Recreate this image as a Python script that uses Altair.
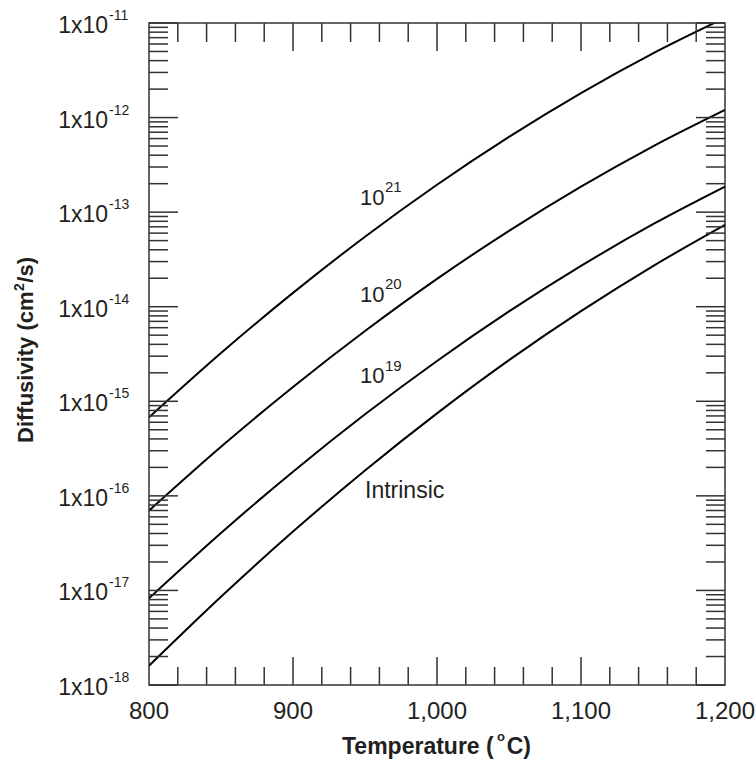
import altair as alt
import pandas as pd

# ---------------- data ----------------
temps = [800, 850, 900, 950, 1000, 1050, 1100, 1150, 1200]
d_1e21 = [6.76e-16, 3.24e-15, 1.40e-14, 5.50e-14, 1.95e-13, 6.25e-13, 1.816e-12, 4.78e-12, 1.135e-11]
d_1e20 = [6.97e-17, 3.30e-16, 1.416e-15, 5.53e-15, 1.968e-14, 6.35e-14, 1.862e-13, 4.97e-13, 1.205e-12]
d_1e19 = [8.26e-18, 4.05e-17, 1.80e-16, 7.28e-16, 2.67e-15, 8.91e-15, 2.70e-14, 7.45e-14, 1.862e-13]
d_intr = [1.60e-18, 8.59e-18, 4.19e-17, 1.854e-16, 7.45e-16, 2.72e-15, 8.97e-15, 2.69e-14, 7.33e-14]
series_names = ["10^21", "10^20", "10^19", "Intrinsic"]

x_tick_labels = [800, 900, 1000, 1100, 1200]
x_major_ticks = [900, 1000, 1100]
x_minor_ticks = [820, 840, 860, 880, 920, 940, 960, 980, 1020, 1040, 1060, 1080,
                 1120, 1140, 1160, 1180]
y_exponents = [-18, -17, -16, -15, -14, -13, -12, -11]
y_minor_mantissas = [2, 3, 4, 5, 6, 7, 8, 9]

# ---------------- layout / style ----------------
W, H = 576, 662
FONT = "Liberation Sans"
TC = "#231f20"
FRAME = "#333333"

rows = []
for name, vals in zip(series_names, [d_1e21, d_1e20, d_1e19, d_intr]):
    for t, d in zip(temps, vals):
        rows.append({"series": name, "T": t, "D": d})
curves = pd.DataFrame(rows)

xs = alt.Scale(domain=[800, 1200], nice=False, zero=False)
ys = alt.Scale(type="log", domain=[1e-18, 1e-11], nice=False)

lines = alt.Chart(curves).mark_line(
    color="black", strokeWidth=2, clip=True, interpolate="monotone"
).encode(
    x=alt.X("T:Q", scale=xs, axis=None),
    y=alt.Y("D:Q", scale=ys, axis=None),
    detail="series:N",
)

y_major_df = pd.DataFrame({"v": [10.0 ** e for e in y_exponents]})
y_minor_df = pd.DataFrame({"v": [m * 10.0 ** e for e in y_exponents[:-1] for m in y_minor_mantissas]})
x_major_df = pd.DataFrame({"v": x_major_ticks})
x_minor_df = pd.DataFrame({"v": x_minor_ticks})


def yticks(df, x0, x1):
    return alt.Chart(df).mark_rule(color=FRAME, strokeWidth=1.5).encode(
        y=alt.Y("v:Q", scale=ys, axis=None), x=alt.value(x0), x2=alt.value(x1)
    )


def xticks(df, y0, y1):
    return alt.Chart(df).mark_rule(color=FRAME, strokeWidth=1.5).encode(
        x=alt.X("v:Q", scale=xs, axis=None), y=alt.value(y0), y2=alt.value(y1)
    )


ticks = [
    yticks(y_minor_df, 0, 19), yticks(y_major_df, 0, 29),
    yticks(y_minor_df, W - 19, W), yticks(y_major_df, W - 29, W),
    xticks(x_minor_df, H, H - 18), xticks(x_major_df, H, H - 28),
    xticks(x_minor_df, 0, 19), xticks(x_major_df, 0, 28),
]

# y tick labels: "1x10" with superscript exponent
ylab_df = pd.DataFrame({"v": [10.0 ** e for e in y_exponents],
                        "base": ["1x10"] * len(y_exponents),
                        "exp": [str(e) for e in y_exponents]})
ylab_base = alt.Chart(ylab_df).mark_text(
    align="right", baseline="alphabetic", fontSize=23, font=FONT, color=TC, dy=10
).encode(y=alt.Y("v:Q", scale=ys, axis=None), x=alt.value(-41), text="base:N")
ylab_exp = alt.Chart(ylab_df).mark_text(
    align="left", baseline="alphabetic", fontSize=14, font=FONT, color=TC, dy=-3
).encode(y=alt.Y("v:Q", scale=ys, axis=None), x=alt.value(-40), text="exp:N")

xlab_df = pd.DataFrame({"v": x_tick_labels})
xlab = alt.Chart(xlab_df).mark_text(
    align="center", baseline="alphabetic", fontSize=24, font=FONT, color=TC
).encode(x=alt.X("v:Q", scale=xs, axis=None), y=alt.value(H + 34),
         text=alt.Text("v:Q", format=","))


def txt(s, x, y, size=22, align="left", weight="normal", angle=0):
    return alt.Chart(pd.DataFrame({"s": [s]})).mark_text(
        align=align, baseline="alphabetic", fontSize=size, fontWeight=weight,
        font=FONT, color=TC, angle=angle
    ).encode(x=alt.value(x), y=alt.value(y), text="s:N")


annotations = [
    # curve labels
    txt("10", 211, 182), txt("21", 236, 169, size=15),
    txt("10", 211, 279), txt("20", 236, 266, size=15),
    txt("10", 211, 360), txt("19", 236, 348, size=15),
    txt("Intrinsic", 216, 475, size=23),
    # x title
    txt("Temperature (", 193, H + 69, size=23, weight="bold"),
    txt("o", 348, H + 56, size=13, weight="bold"),
    txt("C)", 382, H + 69, size=23, weight="bold", align="right"),
    # y title (rotated)
    txt("Diffusivity (cm", -116, 420, weight="bold", angle=270),
    txt("2", -125, 268, size=14, weight="bold", angle=270),
    txt("/s)", -116, 234, weight="bold", angle=270, align="right"),
]

chart = alt.layer(
    lines, *ticks, ylab_base, ylab_exp, xlab, *annotations
).properties(
    width=W, height=H,
    padding={"left": 149, "top": 23, "right": 30, "bottom": 74},
    autosize="none",
).configure_view(stroke=FRAME, strokeWidth=1.5)

chart.save("out.html", embed_options={"renderer": "svg", "actions": False})
